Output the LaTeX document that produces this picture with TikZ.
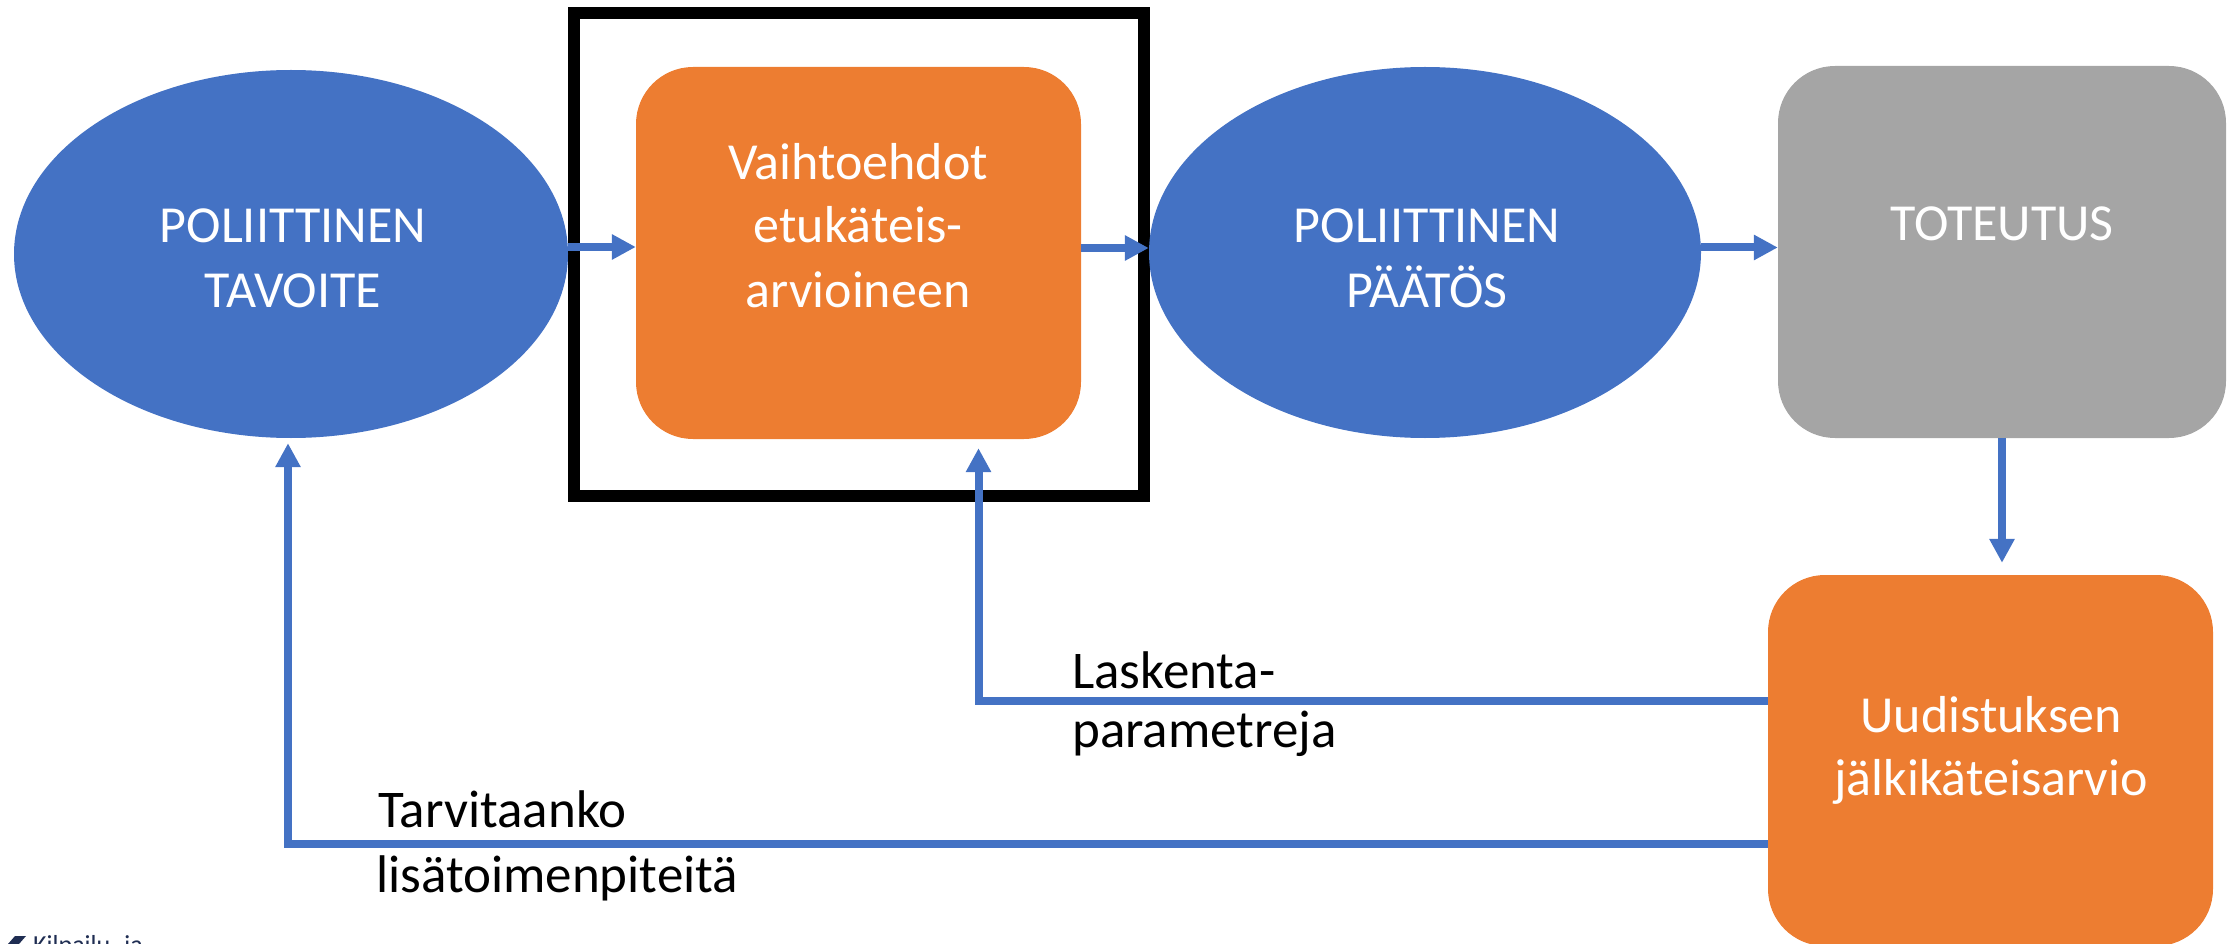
\documentclass[tikz,border=0pt]{standalone}
\usepackage{fontspec}
\setmainfont{Carlito}
\usetikzlibrary{arrows.meta,shapes.geometric}
\definecolor{pblue}{HTML}{4472C4}
\definecolor{porange}{HTML}{ED7D31}
\definecolor{pgray}{HTML}{A5A5A5}
\definecolor{pnavy}{HTML}{1F2D52}
\begin{document}
\begin{tikzpicture}[x=1pt,y=-1pt,
  ell/.style={ellipse, fill=pblue, draw=none, inner sep=0pt},
  rbox/.style={rectangle, rounded corners=57pt, draw=none, inner sep=0pt, minimum width=445pt, minimum height=372pt},
  wtxt/.style={text=white, font=\fontsize{52}{62}\selectfont, inner sep=0pt, anchor=base},
  btxt/.style={text=black, font=\fontsize{53}{62}\selectfont, inner sep=0pt, anchor=base west},
  arr/.style={draw=pblue, line width=8pt, -{Triangle[width=24pt,length=24pt]}},
]
\useasboundingbox (0,0) rectangle (2236,944);
% frame
\node[draw=black, line width=12pt, minimum width=570pt, minimum height=483pt, inner sep=0pt] (frame) at (859,254.5) {};
% shapes
\node[ell, minimum width=554pt, minimum height=368pt] (e1) at (291,254) {};
\node[rbox, fill=porange] (box1) at (858.5,253) {};
\node[ell, minimum width=552pt, minimum height=371pt] (e2) at (1425,252.5) {};
\node[rbox, fill=pgray, minimum width=448pt] (g) at (2002,252) {};
\node[rbox, fill=porange, minimum height=371pt] (b4) at (1990.5,760.5) {};
% texts
\node[wtxt] (e1a) at (293,243) {POLIITTINEN};
\node[wtxt] (e1b) at (293,307) {TAVOITE};
\node[wtxt] (b1a) at (858,180) {Vaihtoehdot};
\node[wtxt] (b1b) at (858,243) {etukäteis-};
\node[wtxt] (b1c) at (858,307) {arvioineen};
\node[wtxt] (e2a) at (1427,243) {POLIITTINEN};
\node[wtxt] (e2b) at (1427,307) {PÄÄTÖS};
\node[wtxt] (ga) at (2002,241) {TOTEUTUS};
\node[wtxt] (b4a) at (1991,732) {Uudistuksen};
\node[wtxt] (b4b) at (1991,795) {jälkikäteisarvio};
% connectors
\draw[arr] ([yshift=7pt]e1.east) coordinate (a1s) -- (a1s -| box1.west);
\draw[arr] ([yshift=5pt]box1.east) coordinate (a2s) -- (a2s -| e2.west);
\draw[arr] ([yshift=5pt]e2.east) coordinate (a3s) -- (a3s -| g.west);
\draw[arr, shorten >=12pt] (g.south) -- (g.south |- b4.north);
\draw[arr, shorten >=9pt] ([yshift=59.5pt]b4.west) -| ([xshift=120pt]box1.south);
\draw[arr, shorten >=5pt] ([yshift=-83.5pt]b4.west) -| ([xshift=-3pt]e1.south);
% labels
\node[btxt] (l1a) at (1072,688) {Laskenta-};
\node[btxt] (l1b) at (1072,747) {parametreja};
\node[btxt] (l2a) at (378,827) {Tarvitaanko};
\node[btxt] (l2b) at (376,892) {lisätoimenpiteitä};
% logo (cut off at bottom)
\fill[pnavy] (15,936) -- (26,936) -- (19,944) -- (8,944) -- cycle;
\node[anchor=base west, inner sep=0pt, text=pnavy, font=\fontsize{26}{30}\selectfont] (logo) at (33,953) {Kilpailu- ja};
\end{tikzpicture}
\end{document}
